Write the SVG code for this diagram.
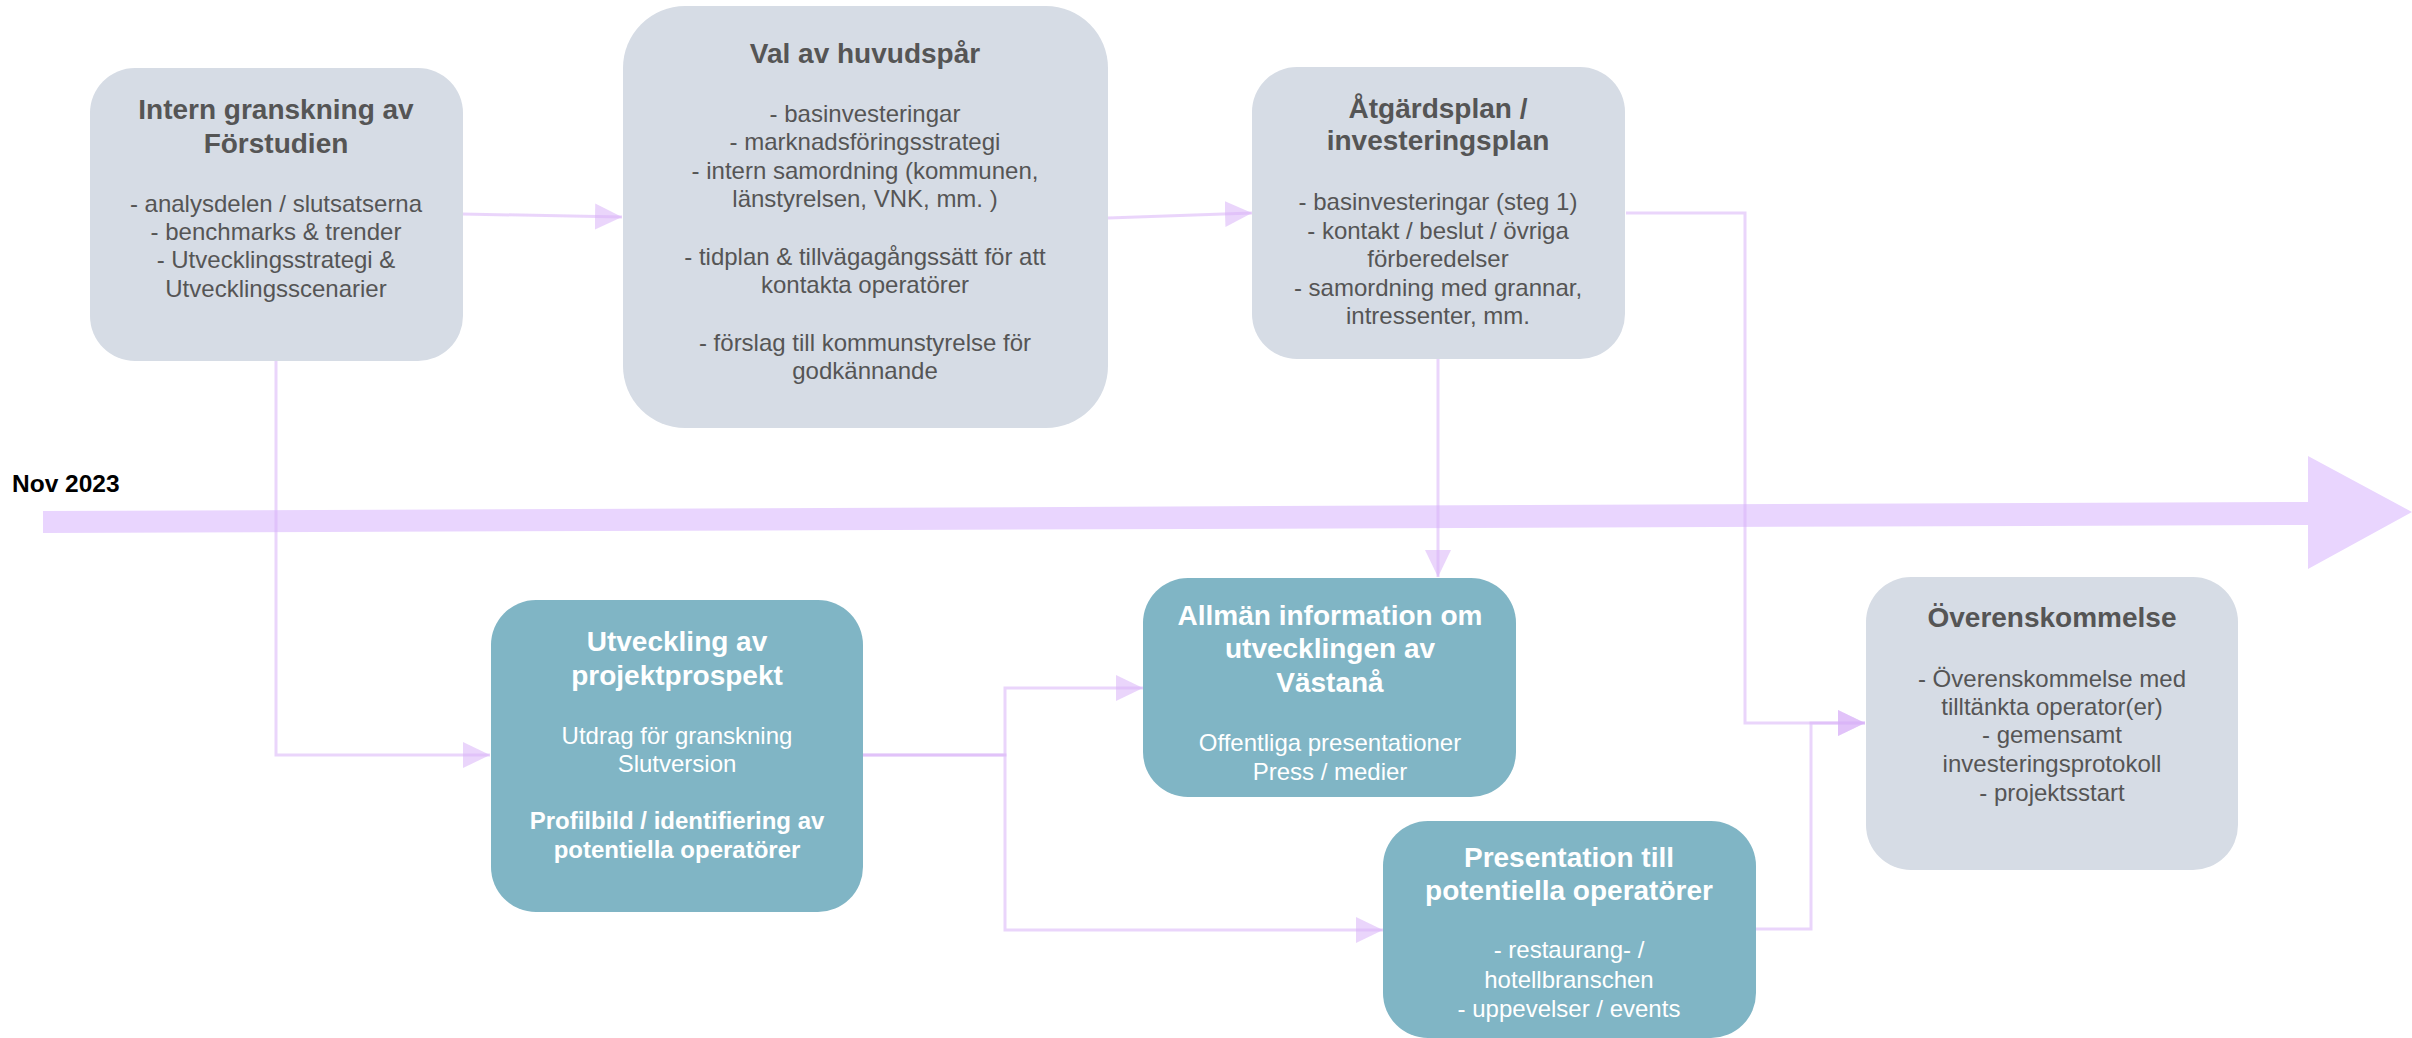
<svg xmlns="http://www.w3.org/2000/svg" width="2412" height="1038" viewBox="0 0 2412 1038">
  <style>
    .grey { fill: #D6DCE5; }
    .teal { fill: #80B5C5; }
    .t { font-family: "Liberation Sans", Arial, sans-serif; text-anchor: middle; }
    .h { font-size: 28px; font-weight: bold; }
    .b { font-size: 24px; }
    .bb { font-size: 24px; font-weight: bold; }
    .dark { fill: #555555; }
    .light { fill: #FFFFFF; }
    .conn { fill: none; stroke: #D9B2F7; stroke-opacity: 0.55; stroke-width: 3; marker-end: url(#head); }
  </style>
  <defs>
    <marker id="head" markerUnits="userSpaceOnUse" markerWidth="28" markerHeight="28" refX="27" refY="13" orient="auto">
      <path d="M0,0 L27,13 L0,26 Z" fill="#D9B2F7" fill-opacity="0.55"/>
    </marker>
  </defs>

  <rect width="2412" height="1038" fill="#FFFFFF"/>

  <!-- timeline -->
  <g id="timeline">
    <polygon points="43,511 2308,502 2308,456 2412,512 2308,569 2308,525 43,533" fill="#E9D5FE"/>
    <text x="12" y="492" font-family="Liberation Sans, Arial, sans-serif" font-size="24.5" font-weight="bold" fill="#000000">Nov 2023</text>
  </g>

  <!-- connectors -->
  <g id="connectors">
    <path class="conn" d="M462,214 L622,217"/>
    <path class="conn" d="M1108,218 L1252,213"/>
    <path class="conn" d="M276,361 V755 H490"/>
    <path class="conn" d="M1438,359 V577"/>
    <path class="conn" d="M862,755 H1005 V688 H1143"/>
    <path class="conn" d="M862,755 H1005 V930 H1383"/>
    <path class="conn" d="M1626,213 H1745 V723 H1865"/>
    <path class="conn" d="M1756,929 H1811 V723 H1865"/>
  </g>

  <!-- Intern granskning av Förstudien -->
  <g id="intern-granskning">
    <rect class="grey" x="90" y="68" width="373" height="293" rx="45"/>
    <text class="t h dark" x="276" y="119">Intern granskning av</text>
    <text class="t h dark" x="276" y="153">Förstudien</text>
    <text class="t b dark" x="276" y="212">- analysdelen / slutsatserna</text>
    <text class="t b dark" x="276" y="240">- benchmarks &amp; trender</text>
    <text class="t b dark" x="276" y="268">- Utvecklingsstrategi &amp;</text>
    <text class="t b dark" x="276" y="297">Utvecklingsscenarier</text>
  </g>

  <!-- Val av huvudspår -->
  <g id="val-av-huvudspar">
    <rect class="grey" x="623" y="6" width="485" height="422" rx="62"/>
    <text class="t h dark" x="865" y="63">Val av huvudspår</text>
    <text class="t b dark" x="865" y="122">- basinvesteringar</text>
    <text class="t b dark" x="865" y="150">- marknadsföringsstrategi</text>
    <text class="t b dark" x="865" y="179">- intern samordning (kommunen,</text>
    <text class="t b dark" x="865" y="207">länstyrelsen, VNK, mm. )</text>
    <text class="t b dark" x="865" y="265">- tidplan &amp; tillvägagångssätt för att</text>
    <text class="t b dark" x="865" y="293">kontakta operatörer</text>
    <text class="t b dark" x="865" y="351">- förslag till kommunstyrelse för</text>
    <text class="t b dark" x="865" y="379">godkännande</text>
  </g>

  <!-- Åtgärdsplan / investeringsplan -->
  <g id="atgardsplan">
    <rect class="grey" x="1252" y="67" width="373" height="292" rx="45"/>
    <text class="t h dark" x="1438" y="118">Åtgärdsplan /</text>
    <text class="t h dark" x="1438" y="150">investeringsplan</text>
    <text class="t b dark" x="1438" y="210">- basinvesteringar (steg 1)</text>
    <text class="t b dark" x="1438" y="239">- kontakt / beslut / övriga</text>
    <text class="t b dark" x="1438" y="267">förberedelser</text>
    <text class="t b dark" x="1438" y="296">- samordning med grannar,</text>
    <text class="t b dark" x="1438" y="324">intressenter, mm.</text>
  </g>

  <!-- Utveckling av projektprospekt -->
  <g id="projektprospekt">
    <rect class="teal" x="491" y="600" width="372" height="312" rx="45"/>
    <text class="t h light" x="677" y="651">Utveckling av</text>
    <text class="t h light" x="677" y="685">projektprospekt</text>
    <text class="t b light" x="677" y="744">Utdrag för granskning</text>
    <text class="t b light" x="677" y="772">Slutversion</text>
    <text class="t bb light" x="677" y="829">Profilbild / identifiering av</text>
    <text class="t bb light" x="677" y="858">potentiella operatörer</text>
  </g>

  <!-- Allmän information om utvecklingen av Västanå -->
  <g id="allman-information">
    <rect class="teal" x="1143" y="578" width="373" height="219" rx="45"/>
    <text class="t h light" x="1330" y="625">Allmän information om</text>
    <text class="t h light" x="1330" y="658">utvecklingen av</text>
    <text class="t h light" x="1330" y="692">Västanå</text>
    <text class="t b light" x="1330" y="751">Offentliga presentationer</text>
    <text class="t b light" x="1330" y="780">Press / medier</text>
  </g>

  <!-- Presentation till potentiella operatörer -->
  <g id="presentation-operatorer">
    <rect class="teal" x="1383" y="821" width="373" height="217" rx="45"/>
    <text class="t h light" x="1569" y="867">Presentation till</text>
    <text class="t h light" x="1569" y="900">potentiella operatörer</text>
    <text class="t b light" x="1569" y="958">- restaurang- /</text>
    <text class="t b light" x="1569" y="988">hotellbranschen</text>
    <text class="t b light" x="1569" y="1017">- uppevelser / events</text>
  </g>

  <!-- Överenskommelse -->
  <g id="overenskommelse">
    <rect class="grey" x="1866" y="577" width="372" height="293" rx="45"/>
    <text class="t h dark" x="2052" y="627">Överenskommelse</text>
    <text class="t b dark" x="2052" y="687">- Överenskommelse med</text>
    <text class="t b dark" x="2052" y="715">tilltänkta operator(er)</text>
    <text class="t b dark" x="2052" y="743">- gemensamt</text>
    <text class="t b dark" x="2052" y="772">investeringsprotokoll</text>
    <text class="t b dark" x="2052" y="801">- projektsstart</text>
  </g>
</svg>
